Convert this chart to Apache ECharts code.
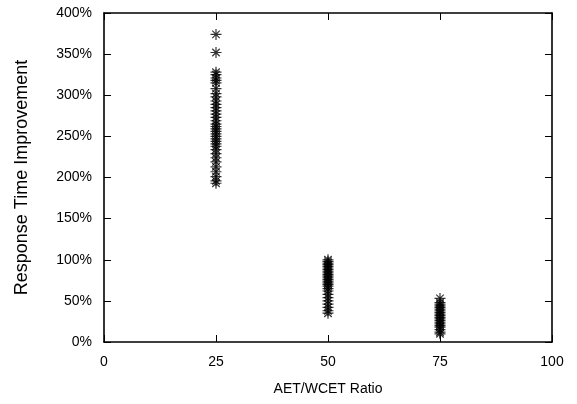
<!DOCTYPE html>
<html>
<head>
<meta charset="utf-8">
<script src="https://cdn.jsdelivr.net/npm/echarts@6/dist/echarts.min.js"></script>
<style>html,body{margin:0;padding:0;background:#fff}#c{width:577px;height:404px}</style>
</head>
<body>
<div id="c"></div>
<script>
const xTicks = [0, 25, 50, 75, 100];
const yTicks = [0, 50, 100, 150, 200, 250, 300, 350, 400];
const ratio25 = [374, 352, 328, 325, 321, 318, 315, 308, 302, 298, 293, 289, 285, 281, 277, 273, 269, 265, 262, 259, 256, 253, 250, 247, 244, 241, 238, 234, 229, 224, 219, 213, 207, 201, 196, 193];
const ratio50 = [100, 98, 96, 94, 92, 90, 88, 86, 84, 82, 80, 78, 76, 74, 72, 70, 68, 65, 62, 58, 54, 50, 46, 42, 38, 35];
const ratio75 = [53, 48, 46, 44, 42, 40, 38, 36, 34, 32, 30, 28, 26, 24, 22, 20, 18, 15, 12, 10];

const pts = [];
ratio25.forEach(v => pts.push([25, v]));
ratio50.forEach(v => pts.push([50, v]));
ratio75.forEach(v => pts.push([75, v]));

const font = 'Liberation Sans, Arial, sans-serif';
const star = 'path://M5 0L5 10M0 5L10 5M1.6 1.6L8.4 8.4M8.4 1.6L1.6 8.4';
const chart = echarts.init(document.getElementById('c'), null, {renderer: 'canvas'});
const lineStyle = {color: '#000', width: 1.6};
const tick = {show: true, inside: true, length: 7, lineStyle: {color: '#000', width: 1}};
chart.setOption({
  animation: false,
  backgroundColor: '#fff',
  grid: {left: 104, right: 25, top: 13, bottom: 62},
  xAxis: [{
    type: 'value', min: 0, max: 100, interval: 25,
    data: xTicks,
    name: 'AET/WCET Ratio', nameLocation: 'middle', nameGap: 40,
    nameTextStyle: {fontFamily: font, fontSize: 14, color: '#000'},
    axisLine: {show: true, onZero: false, lineStyle},
    axisTick: tick,
    axisLabel: {fontFamily: font, fontSize: 14, color: '#000', margin: 13},
    splitLine: {show: false}
  }, {
    type: 'value', min: 0, max: 100, interval: 25, position: 'top',
    axisLine: {show: true, onZero: false, lineStyle},
    axisTick: tick,
    axisLabel: {show: false}, splitLine: {show: false}
  }],
  yAxis: [{
    type: 'value', min: 0, max: 400, interval: 50,
    name: 'Response Time Improvement', nameLocation: 'middle', nameGap: 73,
    nameTextStyle: {fontFamily: font, fontSize: 18, color: '#000'},
    axisLine: {show: true, onZero: false, lineStyle},
    axisTick: tick,
    axisLabel: {fontFamily: font, fontSize: 14, color: '#000', margin: 12, formatter: '{value}%'},
    splitLine: {show: false}
  }, {
    type: 'value', min: 0, max: 400, interval: 50, position: 'right',
    axisLine: {show: true, onZero: false, lineStyle},
    axisTick: tick,
    axisLabel: {show: false}, splitLine: {show: false}
  }],
  series: [{
    type: 'scatter',
    data: pts,
    symbol: star,
    symbolSize: 11,
    itemStyle: {color: 'rgba(0,0,0,0)', borderColor: '#000', borderWidth: 1.2},
    emphasis: {disabled: true}
  }]
});
</script>
</body>
</html>
